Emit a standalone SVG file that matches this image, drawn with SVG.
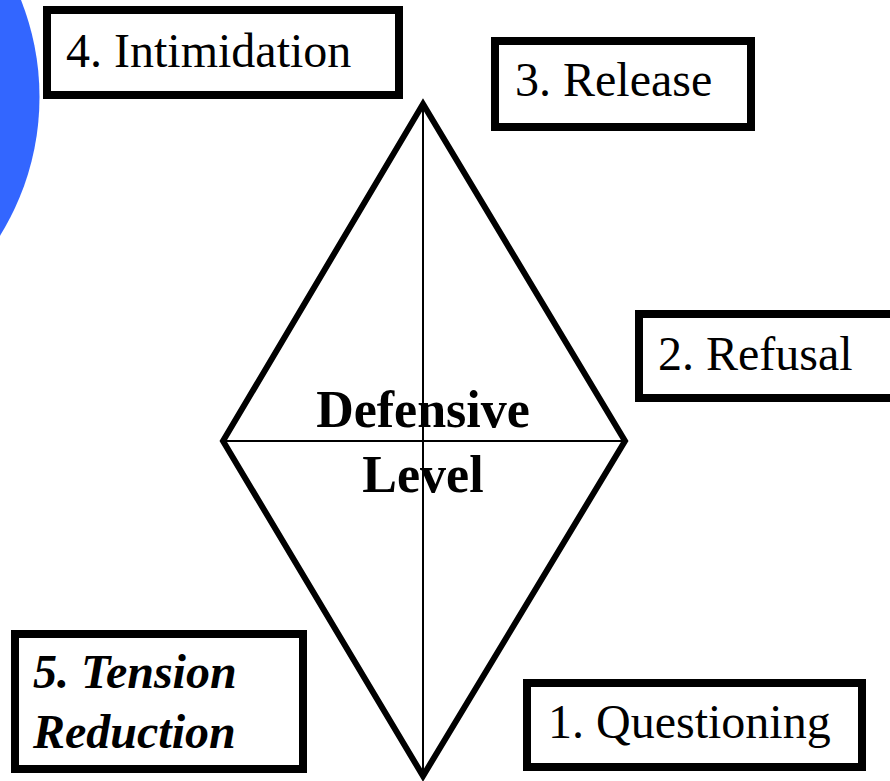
<svg xmlns="http://www.w3.org/2000/svg" width="890" height="781" viewBox="0 0 890 781">
<style>
.box{fill:#fff;stroke:#000;stroke-width:8}
.lbl{font-family:"Liberation Serif","Times New Roman",serif;font-size:48px;fill:#000}
.bi{font-weight:bold;font-style:italic}
.center{font-family:"Liberation Serif","Times New Roman",serif;font-size:52px;font-weight:bold;fill:#000;text-anchor:middle}
.thick{fill:none;stroke:#000;stroke-width:6;stroke-linejoin:miter}
.thin{fill:none;stroke:#000;stroke-width:2}
</style>
<rect width="890" height="781" fill="#fff"/>
<circle id="blue-circle" cx="-224" cy="97" r="263.5" fill="#3366FF"/>
<g id="connectors">
<polygon class="thick" points="423,104 625,441 423,776 223,441"/>
<line class="thin" x1="423" y1="104" x2="423" y2="776"/>
<line class="thin" x1="223" y1="441" x2="625" y2="441"/>
</g>
<g id="center-label">
<text class="center" x="423" y="427">Defensive</text>
<text class="center" x="423" y="492">Level</text>
</g>
<g id="node-4">
<rect class="box" x="47" y="10" width="352" height="85"/>
<text class="lbl" x="66" y="67">4. Intimidation</text>
</g>
<g id="node-3">
<rect class="box" x="495" y="41" width="256" height="86"/>
<text class="lbl" x="515" y="96">3. Release</text>
</g>
<g id="node-2">
<rect class="box" x="639" y="314" width="260" height="84"/>
<text class="lbl" x="658" y="370">2. Refusal</text>
</g>
<g id="node-5">
<rect class="box" x="15" y="634" width="288" height="135"/>
<text class="lbl bi" x="33" y="688">5. Tension</text>
<text class="lbl bi" x="33" y="748">Reduction</text>
</g>
<g id="node-1">
<rect class="box" x="527" y="683" width="335" height="84"/>
<text class="lbl" x="548" y="738">1. Questioning</text>
</g>
</svg>
